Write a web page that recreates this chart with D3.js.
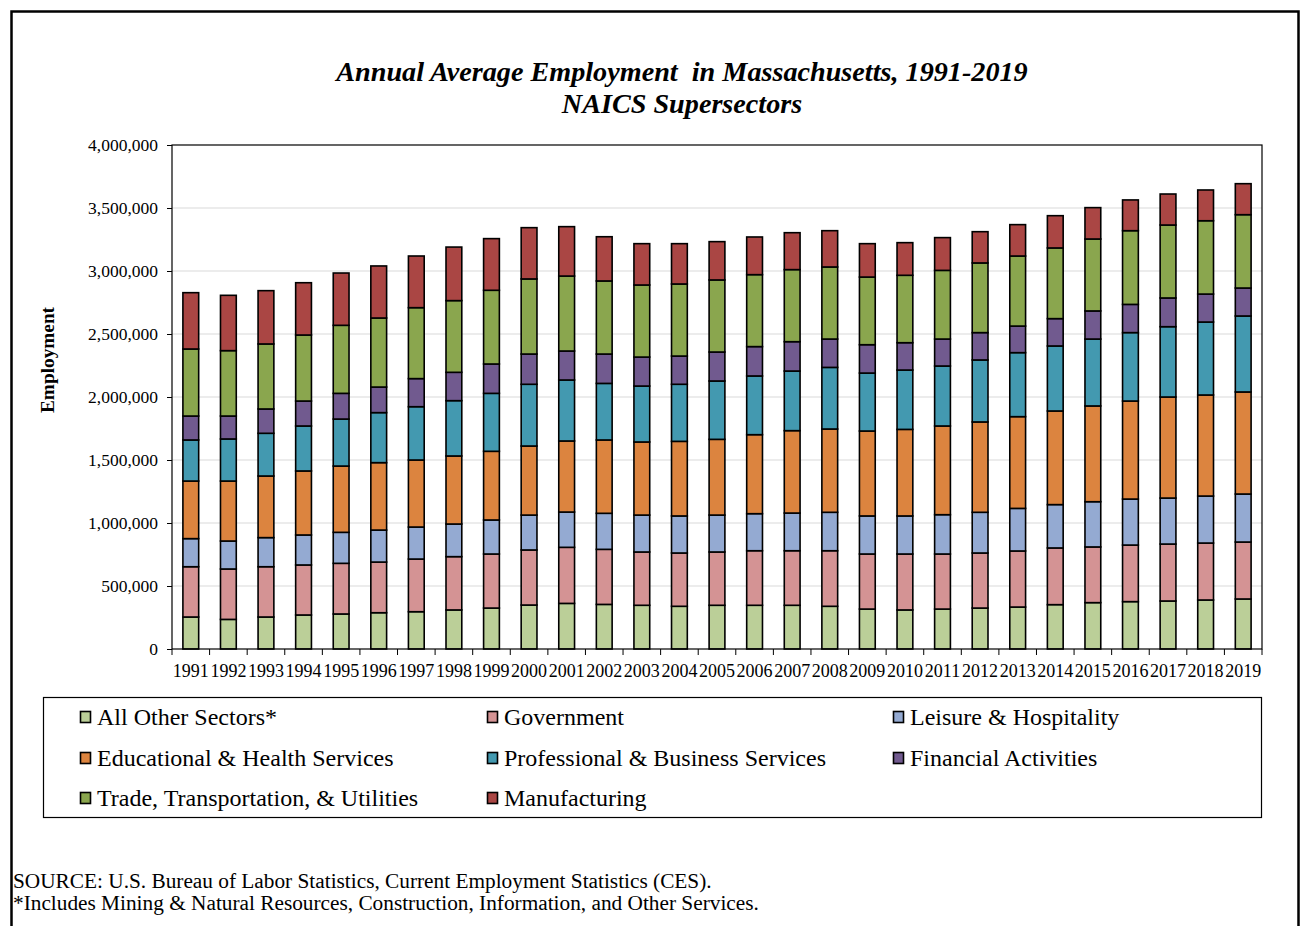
<!DOCTYPE html>
<html><head><meta charset="utf-8">
<script src="https://cdn.jsdelivr.net/npm/d3@7/dist/d3.min.js"></script>
<style>
html,body{margin:0;padding:0;background:#fff;}
svg{display:block;font-family:"Liberation Serif","Times New Roman",serif;}
</style></head>
<body>
<svg id="chart" width="1301" height="926"></svg>
<script>
const years = [1991,1992,1993,1994,1995,1996,1997,1998,1999,2000,2001,2002,2003,2004,2005,2006,2007,2008,2009,2010,2011,2012,2013,2014,2015,2016,2017,2018,2019];
const seriesNames = ["All Other Sectors*","Government","Leisure & Hospitality","Educational & Health Services","Professional & Business Services","Financial Activities","Trade, Transportation, & Utilities","Manufacturing"];
const seriesColors = ["#BBCF98","#D49394","#94AAD2","#DC843F","#4399B0","#715A8F","#8AA64E","#AA4644"];
// values in thousands
const allOther   = [254,235,254,270,278,288,296,310,325,349,362,354,347,339,347,347,347,339,317,310,317,325,333,352,368,376,381,389,397];
const government = [399,400,399,397,402,402,418,423,429,437,445,437,423,423,423,433,433,441,437,444,437,437,445,450,442,449,452,452,452];
const leisure    = [223,222,231,238,246,254,254,259,270,277,280,286,293,294,293,294,299,305,302,302,312,323,338,344,359,365,365,373,381];
const eduHealth  = [457,476,489,508,526,535,532,540,545,548,564,582,580,592,601,627,654,661,674,687,704,717,728,743,760,778,802,802,810];
const profBus    = [326,334,339,357,373,397,423,439,460,490,484,449,444,453,463,466,473,489,460,471,476,492,508,516,531,543,558,579,603];
const financial  = [190,182,193,198,204,203,223,225,233,240,230,233,230,224,230,233,233,225,225,217,214,217,211,217,223,224,228,222,222];
const tradeTrans = [532,519,516,524,540,548,563,569,585,596,595,580,572,572,572,571,572,572,537,535,545,553,556,561,571,585,579,582,582];
const manufact   = [447,439,423,415,415,413,410,425,410,407,392,351,328,320,304,299,293,288,265,259,260,248,249,256,249,244,246,244,246];
const yTicks = [0,500000,1000000,1500000,2000000,2500000,3000000,3500000,4000000];
const seriesValues = [allOther,government,leisure,eduHealth,profBus,financial,tradeTrans,manufact];

const rows = years.map((y,i)=>{const r={year:y}; seriesNames.forEach((n,k)=>r[n]=seriesValues[k][i]*1000); return r;});
const stacked = d3.stack().keys(seriesNames)(rows);

const svg = d3.select("#chart");
// outer frame
svg.append("path").attr("d","M11.5,940 V11.5 H1298.5 V940").attr("fill","none").attr("stroke","#000").attr("stroke-width",2.5);

const L=172,R=1262,T=145,B=649;
const x = d3.scaleBand().domain(years).range([L,R]).paddingInner(0.58).paddingOuter(0.29);
const y = d3.scaleLinear().domain([0,4000000]).range([B,T]);

// gridlines
svg.append("g").selectAll("line").data(yTicks.slice(1,-1)).join("line")
  .attr("x1",L).attr("x2",R).attr("y1",d=>y(d)).attr("y2",d=>y(d))
  .attr("stroke","#D9D9D9").attr("stroke-width",1);

// bars
svg.append("g").selectAll("g").data(stacked).join("g")
  .attr("fill",(d,i)=>seriesColors[i])
  .selectAll("rect").data(d=>d).join("rect")
  .attr("x",d=>x(d.data.year)).attr("width",x.bandwidth())
  .attr("y",d=>y(d[1])).attr("height",d=>y(d[0])-y(d[1]))
  .attr("stroke","#000").attr("stroke-width",1.6);

// plot frame
svg.append("rect").attr("x",L).attr("y",T).attr("width",R-L).attr("height",B-T)
  .attr("fill","none").attr("stroke","#000").attr("stroke-width",1.2);

// y axis
const yAxis = svg.append("g").attr("transform",`translate(${L},0)`)
  .call(d3.axisLeft(y).tickValues(yTicks).tickSize(5).tickPadding(9).tickFormat(d3.format(",")));
yAxis.select(".domain").remove();
yAxis.selectAll("text").attr("font-size","17.5px").attr("fill","#000").attr("font-family","Liberation Serif, serif");
yAxis.selectAll("line").attr("stroke","#000");

// x axis: ticks between categories
const step = x.step();
const xBoundaries = years.map((yr,i)=>L + i*step).concat([R]);
svg.append("g").selectAll("line").data(xBoundaries).join("line")
  .attr("x1",d=>d).attr("x2",d=>d).attr("y1",B).attr("y2",B+6).attr("stroke","#000");
svg.append("g").selectAll("text").data(years).join("text")
  .attr("x",d=>x(d)+x.bandwidth()/2).attr("y",677)
  .attr("text-anchor","middle").attr("font-size","18px").text(d=>d);

// y label
svg.append("text").attr("transform","translate(54,360) rotate(-90)")
  .attr("text-anchor","middle").attr("font-weight","bold").attr("font-size","19.3px").text("Employment");

// title
svg.append("text").attr("x",682).attr("y",81).attr("text-anchor","middle")
  .attr("font-weight","bold").attr("font-style","italic").attr("font-size","28.2px")
  .attr("xml:space","preserve").text("Annual Average Employment  in Massachusetts, 1991-2019");
svg.append("text").attr("x",682).attr("y",113).attr("text-anchor","middle")
  .attr("font-weight","bold").attr("font-style","italic").attr("font-size","28.2px").text("NAICS Supersectors");

// legend
svg.append("rect").attr("x",43.5).attr("y",697.5).attr("width",1218).attr("height",120)
  .attr("fill","none").attr("stroke","#000").attr("stroke-width",1.2);
const colX=[80,487,893], rowY=[717,758,798];
const lg = svg.append("g").selectAll("g").data(seriesNames).join("g")
  .attr("transform",(d,i)=>`translate(${colX[i%3]},${rowY[Math.floor(i/3)]})`);
lg.append("rect").attr("x",0.5).attr("y",-5.5).attr("width",10).attr("height",11)
  .attr("fill",(d,i)=>seriesColors[i]).attr("stroke","#000").attr("stroke-width",1.6);
lg.append("text").attr("x",17).attr("y",8).attr("font-size","24px").text(d=>d);

// footer
svg.append("text").attr("x",13).attr("y",888).attr("font-size","21.3px")
  .text("SOURCE: U.S. Bureau of Labor Statistics, Current Employment Statistics (CES).");
svg.append("text").attr("x",13).attr("y",910).attr("font-size","21.3px")
  .text("*Includes Mining & Natural Resources, Construction, Information, and Other Services.");
</script>
</body></html>
